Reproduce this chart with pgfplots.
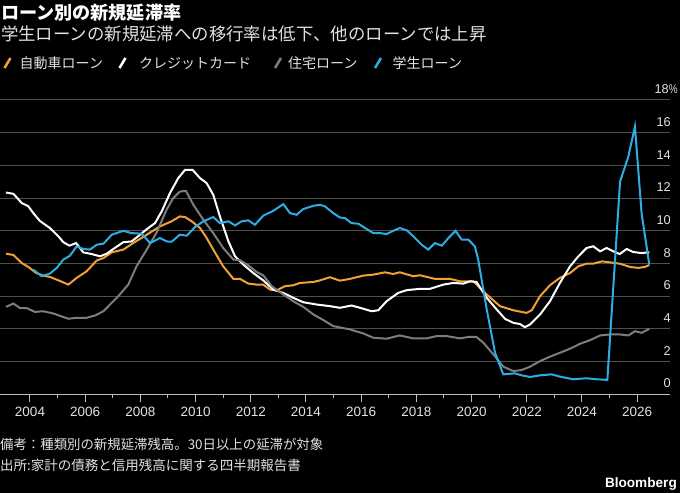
\documentclass[border=0pt]{standalone}
\usepackage{graphicx}
\usepackage{pgfplots}
\pgfplotsset{compat=1.18}
\usepackage{fontspec}
\setmainfont{Liberation Sans}
\newfontfamily\jp{Noto Sans CJK JP}
\definecolor{cauto}{RGB}{242,160,52}
\definecolor{cstud}{RGB}{44,174,228}
\definecolor{cmort}{RGB}{125,125,125}
\definecolor{gridc}{RGB}{78,78,78}
\definecolor{axisc}{RGB}{190,190,190}
\definecolor{txt}{RGB}{225,225,225}
\begin{document}
\begin{tikzpicture}
\fill[black] (0,0) rectangle (680bp,493bp);
\begin{axis}[
  at={(0bp,98.7bp)}, anchor=south west,
  scale only axis, width=670bp, height=294.3bp,
  xmin=2002.913, xmax=2027.19, ymin=0, ymax=18,
  axis x line*=bottom, axis y line*=right,
  x axis line style={draw=axisc, line width=1bp, -},
  y axis line style={draw=none},
  xtick={2004,2006,...,2026},
  xticklabels={2004,2006,2008,2010,2012,2014,2016,2018,2020,2022,2024,2026},
  minor xtick={2005,2007,...,2025},
  xtick style={draw=axisc, line width=1bp},
  tick align=outside,
  major tick length=8bp, minor tick length=3.5bp,
  ytick={0,2,...,18},
  yticklabels={0,2,4,6,8,10,12,14,16,{18\rlap{\scalebox{0.78}[1]{\%}}\kern2bp}},
  ytick style={draw=none},
  ymajorgrids, grid style={draw=gridc, line width=1bp},
  xticklabel style={font=\fontsize{13.5bp}{15bp}\selectfont, text=txt, inner sep=0pt, anchor=north, yshift=-4.5bp},
  yticklabel style={font=\fontsize{12.8bp}{14bp}\selectfont, text=txt, inner sep=0pt, anchor=south east, xshift=-7bp, yshift=6bp},
]
% auto loans
\addplot[cauto, line width=2bp] coordinates {
(2003.13,8.6)(2003.40,8.52)(2003.70,8.03)(2003.94,7.79)(2004.22,7.42)(2004.48,7.26)(2004.72,7.18)
(2005.03,6.97)(2005.39,6.71)(2005.69,7.12)(2006.05,7.52)(2006.42,8.19)(2006.66,8.33)(2006.96,8.68)
(2007.38,8.85)(2007.74,9.25)(2008.23,9.76)(2008.71,10.27)(2009.13,10.58)(2009.43,10.88)(2009.62,10.84)
(2009.86,10.58)(2010.16,10.17)(2010.40,9.56)(2010.70,8.68)(2011.00,7.83)(2011.37,7.06)(2011.61,7.06)
(2011.91,6.77)(2012.21,6.71)(2012.45,6.71)(2012.70,6.4)(2012.94,6.36)(2013.24,6.61)(2013.54,6.67)
(2013.78,6.81)(2014.27,6.87)(2014.51,6.97)(2014.87,7.16)(2015.23,6.95)(2015.59,7.06)(2016.08,7.26)
(2016.44,7.32)(2016.86,7.46)(2017.16,7.36)(2017.40,7.46)(2017.89,7.22)(2018.13,7.28)(2018.67,7.06)
(2019.22,7.06)(2019.58,6.91)(2020.06,6.91)(2020.55,6.1)(2021.03,5.39)(2021.51,5.14)(2021.99,4.98)
(2022.18,5.14)(2022.48,6.0)(2022.84,6.67)(2023.20,7.12)(2023.57,7.42)(2023.87,7.83)(2024.17,7.99)
(2024.41,7.99)(2024.72,8.13)(2025.01,8.07)(2025.37,7.99)(2025.74,7.79)(2026.04,7.73)(2026.28,7.79)
(2026.44,7.91)};
% credit card
\addplot[white, line width=2bp] coordinates {
(2003.13,12.34)(2003.40,12.26)(2003.70,11.7)(2003.94,11.5)(2004.12,11.08)(2004.36,10.6)(2004.72,10.17)
(2005.03,9.66)(2005.21,9.3)(2005.43,9.09)(2005.67,9.25)(2005.93,8.68)(2006.23,8.58)(2006.54,8.44)
(2006.78,8.6)(2007.02,8.89)(2007.38,9.3)(2007.68,9.35)(2007.99,9.76)(2008.23,10.1)(2008.53,10.47)
(2008.77,11.18)(2009.07,12.3)(2009.37,13.22)(2009.62,13.73)(2009.89,13.73)(2010.16,13.22)(2010.40,12.92)
(2010.64,12.2)(2010.88,10.88)(2011.19,9.35)(2011.43,8.44)(2011.73,7.93)(2012.09,7.42)(2012.45,6.97)
(2012.82,6.4)(2013.18,6.2)(2013.54,5.9)(2013.90,5.63)(2014.39,5.49)(2014.87,5.39)(2015.23,5.29)
(2015.65,5.43)(2015.96,5.29)(2016.38,5.08)(2016.62,5.14)(2016.92,5.69)(2017.34,6.2)(2017.65,6.37)
(2018.13,6.45)(2018.49,6.45)(2018.98,6.71)(2019.34,6.81)(2019.70,6.77)(2019.94,6.91)(2020.18,6.87)
(2020.55,5.9)(2020.91,5.19)(2021.21,4.62)(2021.51,4.37)(2021.75,4.3)(2021.93,4.11)(2022.12,4.27)
(2022.48,4.88)(2022.84,5.69)(2023.20,6.81)(2023.57,7.83)(2023.87,8.44)(2024.17,8.95)(2024.41,9.05)
(2024.66,8.74)(2024.89,8.95)(2025.14,8.74)(2025.37,8.58)(2025.62,8.89)(2025.86,8.7)(2026.16,8.64)
(2026.44,8.68)};
% mortgage
\addplot[cmort, line width=2bp] coordinates {
(2003.13,5.35)(2003.40,5.55)(2003.64,5.27)(2003.88,5.27)(2004.18,5.04)(2004.48,5.08)(2004.85,4.94)
(2005.39,4.62)(2005.69,4.68)(2006.05,4.68)(2006.36,4.82)(2006.66,5.08)(2006.90,5.49)(2007.20,6.0)
(2007.56,6.71)(2007.86,7.83)(2008.23,8.85)(2008.59,9.9)(2008.95,11.29)(2009.19,12.0)(2009.43,12.4)
(2009.65,12.44)(2009.92,11.59)(2010.28,10.68)(2010.64,9.86)(2011.00,8.95)(2011.37,8.24)(2011.61,8.2)
(2011.91,7.89)(2012.21,7.48)(2012.45,7.28)(2012.76,6.61)(2013.18,6.1)(2013.54,5.69)(2013.90,5.35)
(2014.27,4.88)(2014.63,4.54)(2014.99,4.17)(2015.23,4.09)(2015.59,3.97)(2016.08,3.72)(2016.44,3.46)
(2016.92,3.4)(2017.40,3.6)(2017.89,3.42)(2018.37,3.42)(2018.73,3.56)(2019.10,3.56)(2019.58,3.42)
(2019.94,3.52)(2020.18,3.5)(2020.43,3.15)(2020.79,2.44)(2021.15,1.69)(2021.51,1.42)(2021.81,1.48)
(2022.12,1.69)(2022.48,2.03)(2022.84,2.3)(2023.20,2.54)(2023.57,2.79)(2023.93,3.09)(2024.29,3.31)
(2024.66,3.6)(2025.01,3.66)(2025.37,3.66)(2025.68,3.6)(2025.92,3.86)(2026.16,3.76)(2026.44,4.0)};
% student loans
\addplot[cstud, line width=2bp] coordinates {
(2004.12,7.63)(2004.42,7.22)(2004.72,7.38)(2004.97,7.73)(2005.21,8.24)(2005.45,8.48)(2005.69,9.05)
(2005.93,8.89)(2006.17,8.85)(2006.42,9.15)(2006.66,9.21)(2006.96,9.76)(2007.38,10.0)(2007.68,9.86)
(2008.05,9.82)(2008.35,9.25)(2008.71,9.56)(2008.95,9.35)(2009.13,9.33)(2009.43,9.76)(2009.68,9.7)
(2009.98,10.23)(2010.28,10.58)(2010.64,10.84)(2010.88,10.47)(2011.19,10.58)(2011.43,10.33)(2011.67,10.58)
(2011.91,10.64)(2012.15,10.37)(2012.45,10.92)(2012.82,11.23)(2013.18,11.63)(2013.42,11.08)(2013.66,10.98)
(2013.90,11.33)(2014.27,11.53)(2014.51,11.59)(2014.69,11.49)(2014.99,11.08)(2015.23,10.81)(2015.41,10.78)
(2015.65,10.47)(2015.90,10.43)(2016.14,10.17)(2016.44,9.86)(2016.68,9.86)(2016.92,9.8)(2017.16,10.0)
(2017.40,10.17)(2017.65,10.03)(2017.89,9.66)(2018.19,9.15)(2018.43,8.85)(2018.67,9.25)(2018.92,9.09)
(2019.16,9.56)(2019.42,10.0)(2019.64,9.46)(2019.88,9.46)(2020.12,9.05)(2020.24,8.24)(2020.55,5.19)
(2020.85,2.54)(2021.15,1.22)(2021.57,1.28)(2021.81,1.16)(2022.12,1.06)(2022.48,1.16)(2022.90,1.22)
(2023.20,1.08)(2023.69,0.92)(2024.17,0.98)(2024.53,0.92)(2024.92,0.88)(2025.38,13.0)(2025.68,14.54)
(2025.92,16.37)(2026.16,11.08)(2026.44,7.93)};
\end{axis}
% titles
\node[anchor=west, inner sep=0pt, text=white, font=\fontsize{18.1bp}{20bp}\jp\bfseries] at (1bp,480bp) {ローン別の新規延滞率};
\node[anchor=west, inner sep=0pt, text=txt, font=\fontsize{17.4bp}{20bp}\jp] at (1bp,459bp) {学生ローンの新規延滞への移行率は低下、他のローンでは上昇};
% legend
\begin{scope}[font=\fontsize{14bp}{16bp}\jp]
\draw[cauto, line width=2.5bp] (4.5bp,425bp) -- (10.5bp,435bp);
\node[anchor=west, inner sep=0pt, text=txt] at (19.5bp,430bp) {自動車ローン};
\draw[white, line width=2.5bp] (119.5bp,425bp) -- (125.5bp,435bp);
\node[anchor=west, inner sep=0pt, text=txt] at (139bp,430bp) {クレジットカード};
\draw[cmort, line width=2.5bp] (275bp,425bp) -- (281bp,435bp);
\node[anchor=west, inner sep=0pt, text=txt] at (288bp,430bp) {住宅ローン};
\draw[cstud, line width=2.5bp] (375bp,425bp) -- (381bp,435bp);
\node[anchor=west, inner sep=0pt, text=txt] at (392.5bp,430bp) {学生ローン};
\end{scope}
% notes
\node[anchor=west, inner sep=0pt, text=txt, font=\fontsize{13.4bp}{15bp}\jp] at (0bp,49bp) {備考：種類別の新規延滞残高。30日以上の延滞が対象};
\node[anchor=west, inner sep=0pt, text=txt, font=\fontsize{13.5bp}{15bp}\jp] at (0bp,28bp) {出所:家計の債務と信用残高に関する四半期報告書};
\node[anchor=east, inner sep=0pt, text=white, font=\fontsize{13.6bp}{15bp}\bfseries] at (677bp,9bp) {Bloomberg};
\pgfresetboundingbox
\path[use as bounding box] (0,0) rectangle (680bp,493bp);
\end{tikzpicture}
\end{document}
